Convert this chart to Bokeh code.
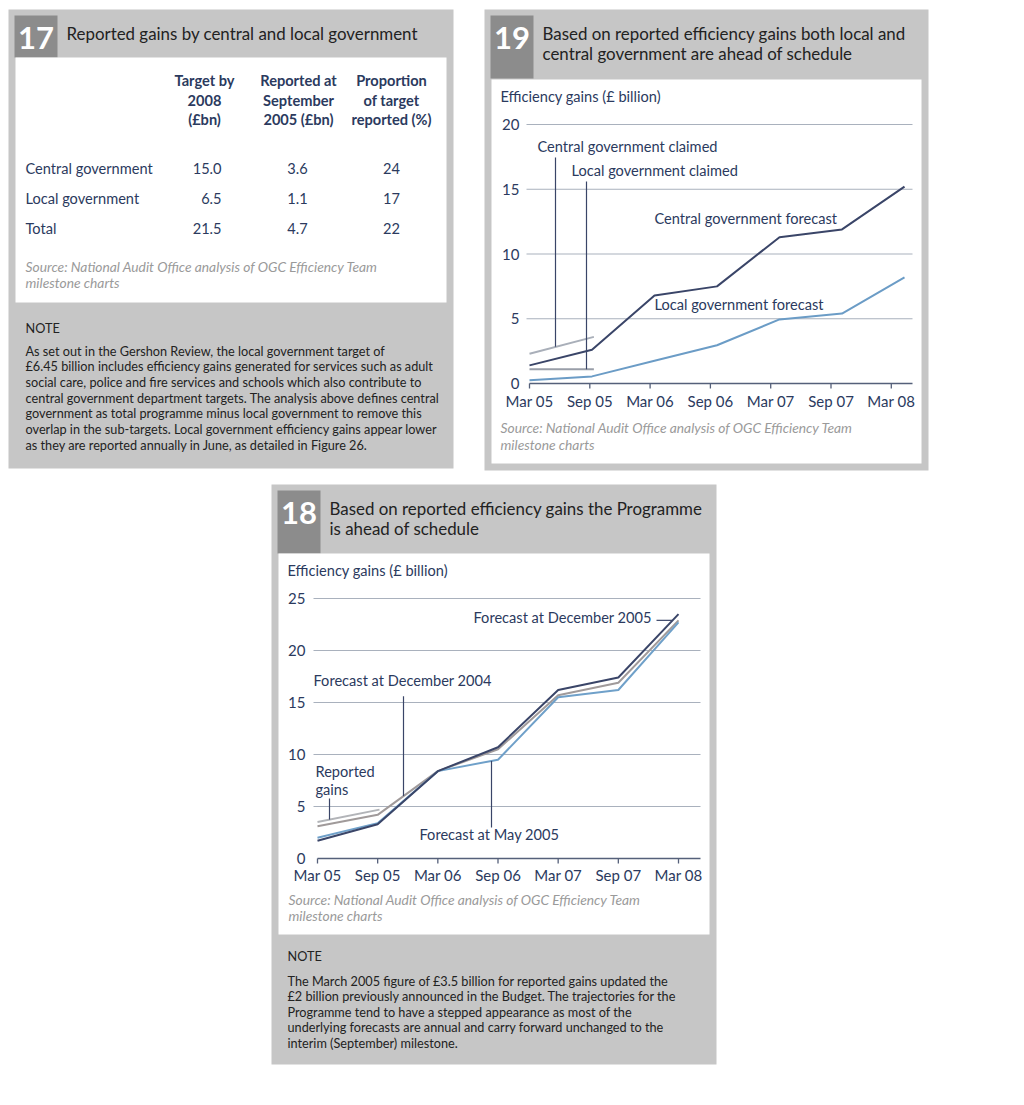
from bokeh.plotting import figure
from bokeh.models import Range1d
from bokeh.core.properties import value
from bokeh.embed import file_html
from bokeh.resources import INLINE
import numpy as np

# ------------------------------------------------------------------ data
periods = ["Mar 05", "Sep 05", "Mar 06", "Sep 06", "Mar 07", "Sep 07", "Mar 08"]

# Figure 17 - table
t17_head = [["Target by", "2008", "(£bn)"],
            ["Reported at", "September", "2005 (£bn)"],
            ["Proportion", "of target", "reported (%)"]]
t17_rows = ["Central government", "Local government", "Total"]
t17_target = ["15.0", "6.5", "21.5"]
t17_reported = ["3.6", "1.1", "4.7"]
t17_prop = ["24", "17", "22"]

# Figure 19 - central / local government (£ billion)
central_forecast = [1.4, 2.6, 6.8, 7.5, 11.3, 11.9, 15.2]
local_forecast = [0.25, 0.55, 1.75, 2.95, 4.95, 5.4, 8.2]
central_claimed = [2.3, 3.6]
local_claimed = [1.1, 1.1]
y19_ticks = [0, 5, 10, 15, 20]

# Figure 18 - programme (£ billion)
reported_gains = [3.5, 4.7]
fc_dec2004 = [3.1, 4.2, 8.4, 10.5, 15.7, 16.9, 22.9]
fc_may2005 = [2.0, 3.4, 8.4, 9.5, 15.5, 16.2, 22.7]
fc_dec2005 = [1.7, 3.3, 8.4, 10.7, 16.2, 17.4, 23.5]
y18_ticks = [0, 5, 10, 15, 20, 25]

note17 = ["As set out in the Gershon Review, the local government target of",
          "£6.45 billion includes efficiency gains generated for services such as adult",
          "social care, police and fire services and schools which also contribute to",
          "central government department targets. The analysis above defines central",
          "government as total programme minus local government to remove this",
          "overlap in the sub-targets. Local government efficiency gains appear lower",
          "as they are reported annually in June, as detailed in Figure 26."]
note18 = ["The March 2005 figure of £3.5 billion for reported gains updated the",
          "£2 billion previously announced in the Budget. The trajectories for the",
          "Programme tend to have a stepped appearance as most of the",
          "underlying forecasts are annual and carry forward unchanged to the",
          "interim (September) milestone."]
source = ["Source: National Audit Office analysis of OGC Efficiency Team",
          "milestone charts"]

# ------------------------------------------------------------------ style
FONT = value("Lato")
NAVY = "#2b3a5e"
DARK = "#222222"
PANEL = "#c6c6c6"
NUMBOX = "#8c8c8c"
GRID = "#a9b1bd"
SRC = "#9a9a9a"
LAB = "14.6px"
TICK = "15px"
TITLE = "16.9px"
SMALL = "12.7px"
SRCSZ = "13.8px"

O = 0  # page pixel of the figure origin
W, H = 1016, 1097
p = figure(width=W, height=H, output_backend="svg", toolbar_location=None,
           x_range=Range1d(O, O + W), y_range=Range1d(O + H, O),
           x_axis_location=None, y_axis_location=None, min_border=0)
p.grid.visible = False
p.outline_line_color = None
p.background_fill_color = "white"
p.border_fill_color = "white"


def txt(x, y, t, size=LAB, color=NAVY, align="left", style="normal", **kw):
    p.text(x=x if isinstance(x, list) else [x], y=y if isinstance(y, list) else [y],
           text=t if isinstance(t, list) else [t], text_font=FONT,
           text_font_size=size, text_color=color, text_align=align,
           text_baseline="middle", text_font_style=style, **kw)


def box(l, r, t, b, color):
    p.quad(left=[l], right=[r], top=[t], bottom=[b], fill_color=color, line_color=None)


# chart coordinate systems (anchor data values to pixel positions)
class Chart:
    def __init__(self, name, xa, pxa, xb, pxb, ya, pya, yb, pyb):
        self.sx = (pxb - pxa) / (xb - xa)
        self.sy = (pya - pyb) / (yb - ya)
        xs = xa - (pxa - O) / self.sx
        ys = ya - (O + H - pya) / self.sy
        self.xr = Range1d(xs, xs + W / self.sx)
        self.yr = Range1d(ys, ya + (pya - O) / self.sy)
        self.kw = dict(x_range_name="x" + name, y_range_name="y" + name)

    def dx(self, px):
        return px / self.sx

    def dy(self, px):
        return px / self.sy


c19 = Chart("19", 0, 529, 6, 904, 0, 383, 20, 124)
c18 = Chart("18", 0, 317, 6, 678, 0, 858, 25, 598)
p.extra_x_ranges = {"x19": c19.xr, "x18": c18.xr}
p.extra_y_ranges = {"y19": c19.yr, "y18": c18.yr}


def header(l, r, t, b, nb_r, nb_b, num, lines, white):
    box(l, r, t, b, PANEL)
    box(l + 6, nb_r, t + 6, nb_b, NUMBOX)
    txt((l + 6 + nb_r) / 2, t + 28, num, size="31px", color="white", align="center", style="bold")
    for i, ln in enumerate(lines):
        txt(nb_r + 9, t + 24 + 20 * i, ln, size=TITLE, color=DARK)
    box(*white, "white")


# ------------------------------------------------------------------ panel 17
header(8, 453, 9, 468, 57, 57, "17", ["Reported gains by central and local government"],
       (15, 446, 57, 302))
for j, col in enumerate(t17_head):
    for i, ln in enumerate(col):
        txt([204, 298, 391][j], 80 + 19.5 * i, ln, style="bold", align="center")
for i, r in enumerate(t17_rows):
    y = 168 + 30 * i
    txt(25, y, r)
    txt(221, y, t17_target[i], align="right")
    txt(297, y, t17_reported[i], align="center")
    txt(391, y, t17_prop[i], align="center")
txt(25, 266, source[0], size=SRCSZ, color=SRC, style="italic")
txt(25, 282, source[1], size=SRCSZ, color=SRC, style="italic")
txt(25, 327, "NOTE", size=SMALL, color=DARK)
for i, ln in enumerate(note17):
    txt(25, 350 + 15.7 * i, ln, size=SMALL, color=DARK)

# ------------------------------------------------------------------ panel 19
header(484, 928, 9, 470, 533, 78, "19",
       ["Based on reported efficiency gains both local and",
        "central government are ahead of schedule"], (491, 921, 79, 463))
txt(500, 96, "Efficiency gains (£ billion)")
txt(500, 427, source[0], size=SRCSZ, color=SRC, style="italic")
txt(500, 444, source[1], size=SRCSZ, color=SRC, style="italic")

k = c19.kw
tick_step19 = c19.dx(60.3)
x19_ticks = [i * tick_step19 for i in range(len(periods))]
g_l, g_r = c19.dx(-3), c19.dx(912 - 529)
gy = [v for v in y19_ticks if v > 0]
p.segment(x0=[g_l] * len(gy), x1=[g_r] * len(gy), y0=gy, y1=gy, line_color=GRID, line_width=1, **k)
p.segment(x0=[0], x1=[g_r], y0=[0], y1=[0], line_color="#55607a", line_width=1.5, **k)
p.segment(x0=x19_ticks, x1=x19_ticks, y0=[0] * 7, y1=[-c19.dy(5)] * 7, line_color="#55607a", line_width=1.3, **k)
p.text(x=x19_ticks, y=[-c19.dy(17)] * 7, text=periods, text_font=FONT, text_font_size=TICK,
       text_color=NAVY, text_align="center", text_baseline="middle", **k)
p.text(x=[-c19.dx(10)] * len(y19_ticks), y=y19_ticks, text=[str(v) for v in y19_ticks], text_font=FONT,
       text_font_size=TICK, text_color=NAVY, text_align="right", text_baseline="middle", **k)

xi = list(range(7))
p.line(xi, local_forecast, line_color="#6b9cc6", line_width=2, **k)
p.line(xi, central_forecast, line_color="#3a4568", line_width=2, **k)
p.line([0, 1.03], central_claimed, line_color="#a9afb9", line_width=2, **k)
p.line([0, 1.03], local_claimed, line_color="#999ea8", line_width=2, **k)

# callouts
lx1 = c19.dx(555 - 529)
lx2 = c19.dx(586 - 529)
p.segment(x0=[lx1, lx2], x1=[lx1, lx2], y0=[17.45, 15.6],
          y1=[float(np.interp(lx1, [0, 1], central_claimed)), float(np.interp(lx2, [0, 1], local_claimed))],
          line_color="#3a4568", line_width=1.2, **k)
p.text(x=[c19.dx(8), c19.dx(42), 2.0, 2.0], y=[18.3, 16.45, 12.74, 6.1],
       text=["Central government claimed", "Local government claimed",
             "Central government forecast", "Local government forecast"],
       text_font=FONT, text_font_size=LAB, text_color=NAVY, text_baseline="middle", **k)

# ------------------------------------------------------------------ panel 18
header(271, 716, 484, 1064, 320, 553, "18",
       ["Based on reported efficiency gains the Programme",
        "is ahead of schedule"], (278, 709, 553, 934))
txt(287, 570, "Efficiency gains (£ billion)")
txt(288, 899, source[0], size=SRCSZ, color=SRC, style="italic")
txt(288, 915, source[1], size=SRCSZ, color=SRC, style="italic")
txt(287, 955, "NOTE", size=SMALL, color=DARK)
for i, ln in enumerate(note18):
    txt(287, 980 + 15.5 * i, ln, size=SMALL, color=DARK)

k = c18.kw
g_l, g_r = c18.dx(-4), c18.dx(700 - 317)
gy = [v for v in y18_ticks if v > 0]
p.segment(x0=[g_l] * len(gy), x1=[g_r] * len(gy), y0=gy, y1=gy, line_color=GRID, line_width=1, **k)
p.segment(x0=[0], x1=[g_r], y0=[0], y1=[0], line_color="#55607a", line_width=1.5, **k)
p.segment(x0=xi, x1=xi, y0=[0] * 7, y1=[-c18.dy(5)] * 7, line_color="#55607a", line_width=1.3, **k)
p.text(x=xi, y=[-c18.dy(16)] * 7, text=periods, text_font=FONT, text_font_size=TICK,
       text_color=NAVY, text_align="center", text_baseline="middle", **k)
p.text(x=[-c18.dx(12)] * len(y18_ticks), y=y18_ticks, text=[str(v) for v in y18_ticks], text_font=FONT,
       text_font_size=TICK, text_color=NAVY, text_align="right", text_baseline="middle", **k)

p.line([0, 1.03], reported_gains, line_color="#b2b4b8", line_width=2, **k)
p.line(xi, fc_dec2004, line_color="#a09a9a", line_width=2, **k)
p.line(xi, fc_may2005, line_color="#6fa0c9", line_width=2, **k)
p.line(xi, fc_dec2005, line_color="#3a4568", line_width=2, **k)

# callouts
rx = c18.dx(329 - 317)
dx04 = c18.dx(403 - 317)
mx = c18.dx(491 - 317)
p.segment(x0=[rx, dx04, mx], x1=[rx, dx04, mx],
          y0=[5.77, 15.6, float(np.interp(mx, xi, fc_may2005))],
          y1=[float(np.interp(rx, [0, 1], reported_gains)), float(np.interp(dx04, xi, fc_dec2004)), 2.98],
          line_color="#3a4568", line_width=1.2, **k)
p.segment(x0=[c18.dx(656 - 317)], x1=[5.9], y0=[22.9], y1=[22.9], line_color="#3a4568", line_width=1.2, **k)
p.text(x=[c18.dx(473 - 317), c18.dx(-4), c18.dx(-2), c18.dx(-2), c18.dx(419 - 317)],
       y=[23.17, 17.1, 8.37, 6.63, 2.3],
       text=["Forecast at December 2005", "Forecast at December 2004", "Reported", "gains",
             "Forecast at May 2005"],
       text_font=FONT, text_font_size=LAB, text_color=NAVY, text_baseline="middle", **k)

open("out.html", "w").write(file_html(p, INLINE))
